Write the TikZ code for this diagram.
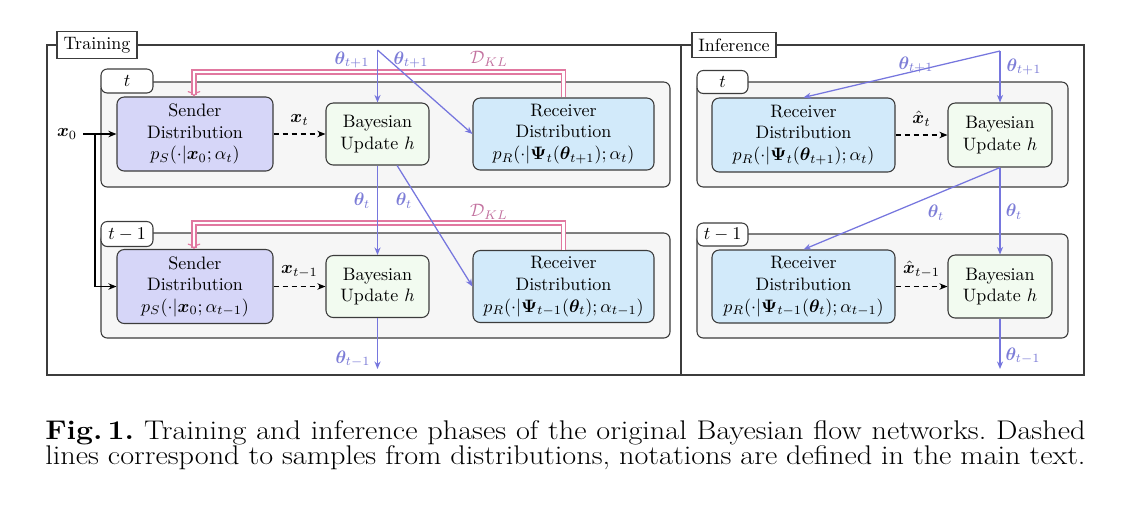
\documentclass[tikz,border=0pt]{standalone}
\usepackage{graphicx}
\usepackage{amsmath,bm}
\usetikzlibrary{arrows.meta}
\definecolor{senderc}{RGB}{214,214,248}
\definecolor{recvc}{RGB}{210,234,250}
\definecolor{bayesc}{RGB}{242,251,240}
\definecolor{blockc}{RGB}{246,246,246}
\definecolor{bluel}{RGB}{118,118,222}
\definecolor{bluet}{RGB}{125,125,215}
\definecolor{pinkl}{RGB}{225,120,160}
\definecolor{pinkt}{RGB}{195,115,160}
\definecolor{framec}{RGB}{60,60,60}
\def\U{0.5556pt}
\newcommand{\capline}[1]{\scalebox{1.12}[1]{\frenchspacing\hbox to 516pt{#1}}}
\begin{document}
\begin{tikzpicture}[x=0.5556pt,y=-0.5556pt,
  every node/.style={font=\fontsize{10}{12}\selectfont},
  outer/.style={draw=framec, line width=0.6pt, inner sep=0pt},
  tag/.style={draw=framec, fill=white, line width=0.6pt, inner sep=0pt},
  tab/.style={draw=framec, fill=white, rounded corners=3.5pt, line width=0.6pt, inner sep=0pt},
  block/.style={draw=framec, fill=blockc, rounded corners=3.5pt, line width=0.6pt, inner sep=0pt},
  box/.style={draw=framec, rounded corners=4pt, line width=0.6pt, inner sep=0pt, align=center},
  sender/.style={box, fill=senderc, minimum width=156*\U, minimum height=74*\U},
  recv/.style={box, fill=recvc, minimum width=181*\U, minimum height=72*\U},
  bayes/.style={box, fill=bayesc, minimum width=103*\U, minimum height=62*\U},
  blk/.style={-{Stealth[length=4.5pt,width=3.6pt]}, line width=0.7pt},
  dsh/.style={blk, dash pattern=on 3pt off 2pt},
  bl/.style={-{Stealth[length=4.2pt,width=3.4pt]}, draw=bluel, line width=0.7pt},
  blt/.style={text=bluet},
  pk/.style={draw=pinkl, double=white, double distance=1.6pt, line width=0.65pt, -{To[length=3pt,width=7pt]}},
  pkt/.style={text=pinkt},
  capt/.style={anchor=base west, inner sep=0pt, font=\fontsize{15}{17}\selectfont}
]
\useasboundingbox (0,0) rectangle (1135,509);

% outer frames
\node[outer, minimum width=634*\U, minimum height=330*\U] (train) at (364,210) {};
\node[outer, minimum width=403*\U, minimum height=330*\U] (infer) at (882.5,210) {};
\node[tag, minimum width=80*\U, minimum height=27*\U] (trainlbl) at (97,45) {Training};
\node[tag, minimum width=84*\U, minimum height=25*\U] (inferlbl) at (734,45) {Inference};

% training blocks
\node[block, minimum width=569*\U, minimum height=105*\U] (T1) at (385.5,134.5) {};
\node[tab, minimum width=52*\U, minimum height=24*\U] (T1tab) at (127,81) {$t$};
\node[block, minimum width=569*\U, minimum height=105*\U] (T2) at (385.5,285.5) {};
\node[tab, minimum width=52*\U, minimum height=25*\U] (T2tab) at (127,234) {$t-1$};

% inference blocks
\node[block, minimum width=371*\U, minimum height=105*\U] (I1) at (882.5,134.5) {};
\node[tab, minimum width=51*\U, minimum height=23*\U] (I1tab) at (722.5,82) {$t$};
\node[block, minimum width=371*\U, minimum height=104*\U] (I2) at (882.5,286) {};
\node[tab, minimum width=51*\U, minimum height=23*\U] (I2tab) at (722.5,234.5) {$t-1$};

% training nodes
\node[sender] (S1) at (195,134) {Sender\\Distribution\\$p_S(\cdot|\bm{x}_0;\alpha_t)$};
\node[sender] (S2) at (195,286.5) {Sender\\Distribution\\$p_S(\cdot|\bm{x}_0;\alpha_{t-1})$};
\node[bayes] (B1) at (377.5,134) {Bayesian\\Update $h$};
\node[bayes] (B2) at (377.5,286.5) {Bayesian\\Update $h$};
\node[recv] (R1) at (563.5,134) {Receiver\\Distribution\\$p_R(\cdot|\bm{\Psi}_t(\bm{\theta}_{t+1});\alpha_t)$};
\node[recv] (R2) at (563.5,286.5) {Receiver\\Distribution\\$p_R(\cdot|\bm{\Psi}_{t-1}(\bm{\theta}_{t});\alpha_{t-1})$};

% inference nodes
\node[recv, minimum width=183*\U, minimum height=74*\U] (IR1) at (803.5,135) {Receiver\\Distribution\\$p_R(\cdot|\bm{\Psi}_t(\bm{\theta}_{t+1});\alpha_t)$};
\node[recv, minimum width=183*\U, minimum height=73*\U] (IR2) at (803.5,286.5) {Receiver\\Distribution\\$p_R(\cdot|\bm{\Psi}_{t-1}(\bm{\theta}_{t});\alpha_{t-1})$};
\node[bayes, minimum width=104*\U, minimum height=64*\U] (IB1) at (1000,135) {Bayesian\\Update $h$};
\node[bayes, minimum width=104*\U, minimum height=63*\U] (IB2) at (1000,286.5) {Bayesian\\Update $h$};

% x0 input
\node (x0) at (67,134) {$\bm{x}_0$};
\coordinate (split) at (95,134);
\draw[blk] (x0.east) -- (S1.west);
\draw[blk] (split) |- (S2.west);

% dashed samples
\draw[dsh] (S1.east) -- node[above=1pt] {$\bm{x}_t$} (B1.west);
\draw[dsh] (S2.east) -- node[above=1pt] {$\bm{x}_{t-1}$} (B2.west);
\draw[dsh] (IR1.east) -- node[above=1pt] {$\hat{\bm{x}}_t$} (IB1.west);
\draw[dsh] (IR2.east) -- node[above=1pt] {$\hat{\bm{x}}_{t-1}$} (IB2.west);

% KL links
\coordinate (k1a) at (563.5,72);
\coordinate (k1b) at (194,72);
\coordinate (k2a) at (563.5,223);
\coordinate (k2b) at (194,223);
\draw[pk] (R1.north) -- (k1a) -- (k1b) -- (S1.north -| k1b);
\draw[pk] (R2.north) -- (k2a) -- (k2b) -- (S2.north -| k2b);
\node[pkt] (kl1) at (489,59) {$\mathcal{D}_{KL}$};
\node[pkt] (kl2) at (489,212) {$\mathcal{D}_{KL}$};

% training theta flow
\coordinate (top1) at (377.5,50);
\draw[bl] (top1) -- (B1.north);
\draw[bl] (top1) -- (R1.west);
\draw[bl] (B1.south) -- (B2.north);
\draw[bl] (B1) -- (R2.west);
\coordinate (end1) at (377.5,369);
\draw[bl] (B2.south) -- (end1);
\node[blt] (th1) at (352,60) {$\bm{\theta}_{t+1}$};
\node[blt] (th2) at (411,60) {$\bm{\theta}_{t+1}$};
\node[blt] (th3) at (362,201) {$\bm{\theta}_{t}$};
\node[blt] (th4) at (404,201) {$\bm{\theta}_{t}$};
\node[blt] (th5) at (353,359) {$\bm{\theta}_{t-1}$};

% inference theta flow
\coordinate (top2) at (1000,51);
\draw[bl] (top2) -- (IB1.north);
\draw[bl] (top2) -- (IR1.north);
\draw[bl] (IB1.south) -- (IB2.north);
\draw[bl] (IB1.south) -- (IR2.north);
\coordinate (end2) at (1000,369);
\draw[bl] (IB2.south) -- (end2);
\node[blt] (ith1) at (916,65) {$\bm{\theta}_{t+1}$};
\node[blt] (ith2) at (1024,67) {$\bm{\theta}_{t+1}$};
\node[blt] (ith3) at (936,213) {$\bm{\theta}_{t}$};
\node[blt] (ith4) at (1014,212) {$\bm{\theta}_{t}$};
\node[blt] (ith5) at (1023,356) {$\bm{\theta}_{t-1}$};

% caption
\node[capt] (cap1) at (45,439)
  {\capline{\textbf{Fig.\,1.} Training and inference phases of the original Bayesian flow networks. Dashed}};
\node[capt] (cap2) at (45,464)
  {\capline{lines correspond to samples from distributions, notations are defined in the main text.}};
\end{tikzpicture}
\end{document}
